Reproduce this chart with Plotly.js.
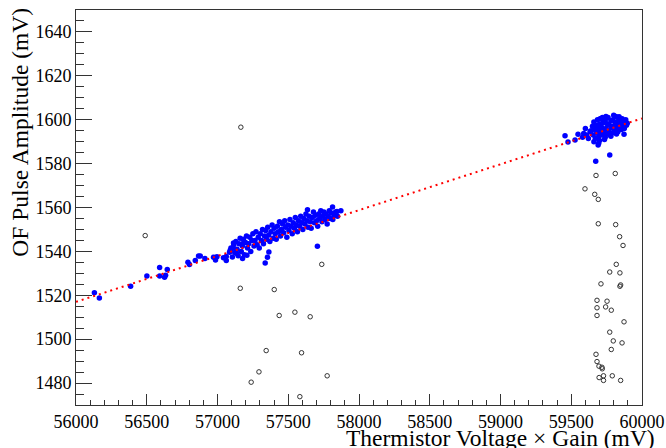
<!DOCTYPE html>
<html>
<head>
<meta charset="utf-8">
<script src="https://cdn.plot.ly/plotly-3.0.1.min.js"></script>
<style>html,body{margin:0;padding:0;background:#fff;}#chart{width:666px;height:448px;}</style>
</head>
<body>
<div id="chart"></div>
<script>
// Blue points (good events): x = thermistor voltage x gain (mV), y = OF amplitude (mV)
const goodX = [
  56130, 56165, 56386, 56501, 56591, 56591, 56626, 56633, 56645, 56791, 56802, 56843, 56866, 56878, 56911,
  56972, 56996, 56986, 57042, 57062, 57062, 57090, 57085, 57113, 57109, 57137, 57177, 57208, 57184,
  57337, 57353, 57363, 57706, 57636, 57813, 57844, 57872,
  57095, 57105, 57115, 57122, 57130, 57138, 57146, 57152, 57160, 57168, 57176, 57183, 57190, 57198,
  57205, 57212, 57220, 57228, 57235, 57243, 57250, 57258, 57265, 57272, 57280, 57288, 57295, 57302,
  57310, 57318, 57325, 57332, 57340, 57348, 57355, 57362, 57370, 57378, 57386, 57393, 57400, 57408,
  57415, 57423, 57430, 57438, 57445, 57452, 57460, 57468, 57475, 57482, 57490, 57497, 57505, 57512,
  57520, 57528, 57535, 57543, 57550, 57558, 57565, 57572, 57580, 57588, 57595, 57603, 57610, 57618,
  57625, 57632, 57640, 57648, 57655, 57662, 57670, 57678, 57685, 57692, 57700, 57708, 57715, 57722,
  57730, 57738, 57745, 57752, 57760, 57768, 57775, 57782, 57790, 57798, 57805, 57815, 57825, 57835, 57848,
  59673, 59772, 59456, 59477, 59527, 59548, 59588, 59621, 59633, 59694, 59873, 59896, 59838, 59704,
  59600, 59610, 59580,
  59640, 59650, 59655, 59660, 59665, 59670, 59675, 59680, 59685, 59690, 59695, 59700, 59705, 59710,
  59715, 59720, 59725, 59730, 59735, 59740, 59745, 59750, 59755, 59760, 59765, 59770, 59775, 59780,
  59785, 59790, 59795, 59800, 59805, 59810, 59815, 59820, 59825, 59830, 59835, 59840, 59845, 59850,
  59855, 59860, 59865, 59870, 59875, 59880, 59885, 59890, 59660, 59700, 59740, 59780, 59820, 59690,
  59720, 59745, 59800, 59830
];
const goodY = [
  1521.1, 1518.8, 1524.1, 1528.8, 1532.7, 1528.8, 1528.2, 1529.1, 1531.7, 1535.0, 1534.0, 1535.8, 1537.9, 1537.9, 1536.8,
  1537.3, 1537.6, 1536.1, 1537.1, 1535.8, 1537.7, 1540.5, 1539.6, 1543.8, 1541.6, 1539.0, 1536.8, 1538.2, 1543.8,
  1534.7, 1537.3, 1539.7, 1542.3, 1559.0, 1560.2, 1558.2, 1558.5,
  1541.5, 1537.5, 1543, 1539.5, 1544.5, 1541, 1538, 1543.5, 1546, 1540, 1542.5, 1545.5, 1538.5, 1544,
  1547, 1541.5, 1543.5, 1546.5, 1540, 1545, 1548, 1542.5, 1545, 1549, 1543, 1546.5, 1541.5, 1548,
  1545, 1550, 1543.5, 1547, 1549.5, 1545.5, 1551, 1547.5, 1544.5, 1549, 1552, 1546, 1550.5, 1548,
  1545.5, 1551.5, 1549, 1553.5, 1547, 1550, 1552.5, 1548.5, 1554, 1551, 1546.5, 1552, 1549.5, 1554.5,
  1551.5, 1548, 1553, 1550.5, 1555.5, 1552, 1549, 1554, 1551.5, 1556, 1553, 1550, 1555, 1552.5,
  1557, 1554, 1551, 1556, 1553.5, 1550.5, 1555.5, 1558, 1553, 1556.5, 1554, 1551.5, 1557, 1555,
  1558.5, 1553.5, 1556, 1558, 1554.5, 1557, 1552.5, 1556, 1558.5, 1555, 1557.5, 1554.5, 1556.5, 1558, 1556,
  1581.1, 1583.9, 1592.7, 1589.8, 1590.8, 1593.4, 1593.7, 1591.4, 1594.6, 1589.3, 1593.4, 1598.4, 1601.4, 1600.4,
  1596, 1593, 1592,
  1595, 1597, 1593, 1599, 1595.5, 1591.5, 1597.5, 1594, 1600, 1596, 1592.5, 1598, 1594.5, 1600.5,
  1596.5, 1593, 1598.5, 1595, 1591, 1599.5, 1596, 1593.5, 1598, 1601, 1595, 1597.5, 1593, 1599.5,
  1596.5, 1594, 1600, 1597, 1595, 1598.5, 1601.5, 1596, 1599, 1594.5, 1597.5, 1600, 1596.5, 1598.5,
  1595.5, 1600.5, 1597, 1599, 1596, 1598, 1600, 1597.5, 1590, 1590.5, 1592, 1592.5, 1593.5, 1588.5,
  1601, 1601.5, 1602, 1601
];
// Open circles (rejected events)
const badX = [
  56489, 57161, 57401, 57737, 57436, 57547, 57655, 57344, 57594, 57293, 57775, 57238, 57582, 57165,
  59675, 59811, 59597, 59666, 59691, 59691, 59814, 59842, 59866, 59818, 59772, 59844, 59710, 59849,
  59844, 59682, 59753, 59682, 59743, 59783, 59682, 59873, 59772, 59797, 59859, 59783, 59675, 59682,
  59696, 59717, 59719, 59697, 59728, 59728, 59790, 59849
];
const badY = [
  1547.2, 1523.2, 1522.6, 1534.1, 1510.8, 1512.3, 1510.2, 1494.8, 1493.8, 1485.1, 1483.3, 1480.4, 1473.8, 1596.6,
  1574.6, 1575.5, 1568.5, 1566.0, 1563.7, 1552.6, 1552.2, 1546.7, 1542.7, 1534.1, 1530.6, 1530.2, 1525.2, 1524.7,
  1524.1, 1517.7, 1517.3, 1514.3, 1514.7, 1513.2, 1510.8, 1507.9, 1503.2, 1499.2, 1498.3, 1495.3, 1493.1, 1489.8,
  1487.7, 1487.2, 1486.5, 1482.5, 1483.3, 1481.2, 1483.3, 1481.2
];
// Linear fit line endpoints
const fitX = [56000, 60000];
const fitY = [1517, 1600.6];

const serif = 'Liberation Serif';

const traces = [
  {x: badX, y: badY, type: 'scatter', mode: 'markers',
   marker: {symbol: 'circle-open', size: 4.5, color: '#333', line: {width: 1, color: '#333'}},
   hoverinfo: 'skip'},
  {x: goodX, y: goodY, type: 'scatter', mode: 'markers',
   marker: {symbol: 'circle', size: 5.5, color: '#0000ff'}, hoverinfo: 'skip'},
  {x: fitX, y: fitY, type: 'scatter', mode: 'lines',
   line: {color: '#ff0000', width: 2, dash: '2px,4px'}, hoverinfo: 'skip'}
];

const axisCommon = {
  showgrid: false, zeroline: false, showline: true, mirror: true,
  linecolor: '#333', linewidth: 1, ticks: 'inside', tickcolor: '#333', tickwidth: 1,
  tickformat: 'd',
  tickfont: {family: serif, size: 18, color: '#000'}
};

const layout = {
  width: 666, height: 448,
  font: {family: serif, color: '#000'},
  margin: {l: 76, r: 24, t: 10, b: 43},
  paper_bgcolor: '#fff', plot_bgcolor: '#fff',
  showlegend: false,
  xaxis: Object.assign({}, axisCommon, {
    range: [56000, 60000.01], dtick: 500, tick0: 56000, ticklen: 11,
    minor: {dtick: 100, ticklen: 5.5, ticks: 'inside', tickcolor: '#333'}
  }),
  yaxis: Object.assign({}, axisCommon, {
    range: [1470, 1650], dtick: 20, tick0: 1480, ticklen: 16,
    minor: {dtick: 5, ticklen: 8, ticks: 'inside', tickcolor: '#333'}
  }),
  annotations: [
    {text: 'Thermistor Voltage \u00d7 Gain (mV)', xref: 'paper', yref: 'paper',
     x: 1.0265, y: -0.083, xanchor: 'right', yanchor: 'middle', showarrow: false,
     font: {family: serif, size: 23.5, color: '#000'}},
    {text: 'OF Pulse Amplitude (mV)', xref: 'paper', yref: 'paper',
     x: -0.099, y: 0.692, xanchor: 'center', yanchor: 'middle', textangle: -90, showarrow: false,
     font: {family: serif, size: 23.5, color: '#000'}}
  ]
};

Plotly.newPlot('chart', traces, layout, {staticPlot: true, displayModeBar: false});
</script>
</body>
</html>
